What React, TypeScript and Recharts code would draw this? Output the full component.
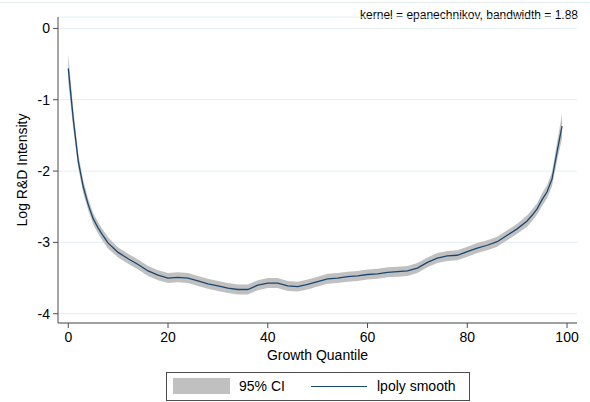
import React from "react"
import { ComposedChart, Area, Line, XAxis, YAxis, CartesianGrid } from "recharts"

// local polynomial fit of log R&D intensity over growth quantiles
const quantiles = [
  0, 1, 2, 3, 4, 5, 6, 7, 8, 10, 12, 14, 16, 18, 20, 22, 24, 26, 28, 30, 32, 34, 36, 38, 40, 42, 44, 46, 48, 50, 52,
  54, 56, 58, 60, 62, 64, 66, 68, 70, 72, 74, 76, 78, 80, 82, 84, 86, 88, 90, 92, 93, 94, 95, 96, 97, 98, 99,
]
const smooth = [
  -0.56, -1.27, -1.86, -2.22, -2.47, -2.67, -2.8, -2.91, -3.01, -3.14, -3.23, -3.31, -3.4, -3.46, -3.5, -3.49, -3.5,
  -3.54, -3.58, -3.61, -3.64, -3.66, -3.66, -3.6, -3.57, -3.57, -3.61, -3.62, -3.59, -3.55, -3.51, -3.5, -3.48, -3.47,
  -3.45, -3.44, -3.42, -3.41, -3.4, -3.36, -3.28, -3.22, -3.19, -3.18, -3.13, -3.08, -3.04, -2.99, -2.9, -2.81, -2.7,
  -2.62, -2.53, -2.4, -2.29, -2.11, -1.73, -1.37,
]
const ciLower = [
  -0.76, -1.41, -1.96, -2.31, -2.55, -2.75, -2.88, -2.99, -3.09, -3.21, -3.3, -3.38, -3.47, -3.53, -3.57, -3.56, -3.57,
  -3.61, -3.65, -3.68, -3.71, -3.73, -3.73, -3.67, -3.64, -3.64, -3.68, -3.69, -3.66, -3.62, -3.58, -3.57, -3.55,
  -3.54, -3.52, -3.51, -3.49, -3.48, -3.47, -3.43, -3.35, -3.29, -3.26, -3.25, -3.2, -3.15, -3.11, -3.06, -2.97,
  -2.88, -2.78, -2.7, -2.61, -2.49, -2.38, -2.21, -1.86, -1.54,
]
const ciUpper = [
  -0.36, -1.13, -1.76, -2.13, -2.39, -2.59, -2.72, -2.83, -2.93, -3.07, -3.16, -3.24, -3.33, -3.39, -3.43, -3.42,
  -3.43, -3.47, -3.51, -3.54, -3.57, -3.59, -3.59, -3.53, -3.5, -3.5, -3.54, -3.55, -3.52, -3.48, -3.44, -3.43, -3.41,
  -3.4, -3.38, -3.37, -3.35, -3.34, -3.33, -3.29, -3.21, -3.15, -3.12, -3.11, -3.06, -3.01, -2.97, -2.92, -2.83,
  -2.74, -2.62, -2.54, -2.45, -2.31, -2.2, -2.01, -1.6, -1.2,
]
const xTicks = [0, 20, 40, 60, 80, 100]
const yTicks = [-4, -3, -2, -1, 0]

const data = quantiles.map((q, i) => ({
  q,
  fit: smooth[i],
  ci: [ciLower[i], ciUpper[i]],
}))

const FONT = "'Liberation Sans', Arial, sans-serif"
const LINE = "#1a476f"
const BAND = "#c0c0c0"
const AXIS = "#4d4d4d"

function LegendBox() {
  return (
    <div
      style={{
        position: "absolute",
        left: 166,
        top: 372,
        width: 302,
        height: 27,
        border: `1px solid ${AXIS}`,
        fontFamily: FONT,
        fontSize: 14,
        color: "#000",
        background: "#fff",
      }}
    >
      <div style={{ position: "absolute", left: 6, top: 5, width: 57, height: 16, background: BAND }} />
      <span style={{ position: "absolute", left: 72, top: 5 }}>95% CI</span>
      <div style={{ position: "absolute", left: 144, top: 13, width: 56, height: 1.3, background: LINE }} />
      <span style={{ position: "absolute", left: 210, top: 5 }}>lpoly smooth</span>
    </div>
  )
}

export default function App() {
  return (
    <div style={{ position: "absolute", left: 0, top: 0, width: 590, height: 402, background: "#fff" }}>
      <div style={{ position: "absolute", left: 0, top: 2, width: 590, height: 1, background: "#e6eef0" }} />
      <div
        style={{
          position: "absolute",
          right: 12,
          top: 8,
          fontFamily: FONT,
          fontSize: 12,
          color: "#000",
          whiteSpace: "nowrap",
        }}
      >
        kernel = epanechnikov, bandwidth = 1.88
      </div>
      <ComposedChart
        width={590}
        height={402}
        data={data}
        margin={{ top: 17, right: 13, bottom: 49, left: 0 }}
        style={{ fontFamily: FONT }}
      >
        <CartesianGrid vertical={false} stroke="#e4eef0" strokeWidth={1} />
        <XAxis
          dataKey="q"
          type="number"
          domain={[-2.06, 102]}
          ticks={xTicks}
          allowDataOverflow
          height={30}
          stroke={AXIS}
          tickSize={5}
          tickMargin={4}
          tick={{ fill: "#000", fontSize: 14 }}
          label={{
            content: () => (
              <text x={317.5} y={360} textAnchor="middle" fontSize={14} fill="#000" fontFamily={FONT}>
                Growth Quantile
              </text>
            ),
          }}
        />
        <YAxis
          type="number"
          domain={[-4.13, 0.16]}
          ticks={yTicks}
          allowDataOverflow
          width={58}
          stroke={AXIS}
          tickSize={5}
          tickMargin={3}
          tick={{ fill: "#000", fontSize: 14 }}
          label={{
            content: () => (
              <text
                x={22}
                y={170}
                textAnchor="middle"
                fontSize={14}
                fill="#000"
                fontFamily={FONT}
                transform="rotate(-90 22 170)"
                dominantBaseline="central"
              >
                Log R&amp;D Intensity
              </text>
            ),
          }}
        />
        <Area
          type="linear"
          dataKey="ci"
          name="95% CI"
          fill={BAND}
          fillOpacity={1}
          stroke="none"
          isAnimationActive={false}
        />
        <Line
          type="linear"
          dataKey="fit"
          name="lpoly smooth"
          stroke={LINE}
          strokeWidth={1.3}
          dot={false}
          isAnimationActive={false}
        />
      </ComposedChart>
      <LegendBox />
    </div>
  )
}
